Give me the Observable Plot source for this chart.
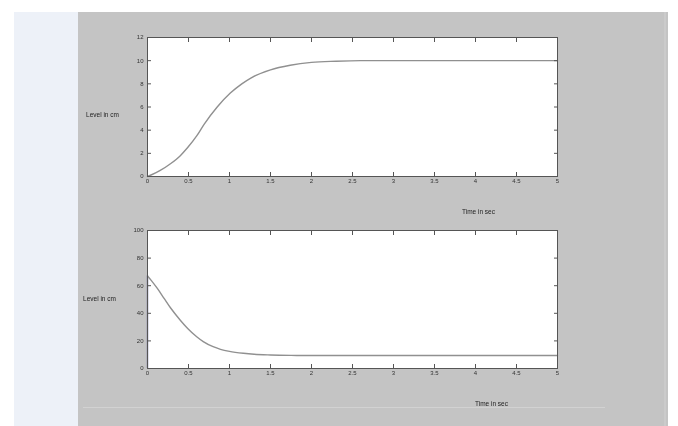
<!DOCTYPE html>
<html>
<head>
<meta charset="utf-8">
<script src="https://cdn.jsdelivr.net/npm/d3@7"></script>
<script src="https://cdn.jsdelivr.net/npm/@observablehq/plot@0.6"></script>
<style>
  html, body { margin: 0; padding: 0; background: #ffffff; }
  #page { position: relative; width: 678px; height: 426px; overflow: hidden; font-family: "Liberation Sans", Arial, sans-serif; }
  #strip { position: absolute; left: 14px; top: 12px; width: 64px; height: 414px; background: #edf1f8; }
  #panel { position: absolute; left: 78px; top: 12px; width: 590px; height: 414px; background: #c4c4c4; }
  #edge { position: absolute; left: 664px; top: 12px; width: 2px; height: 414px; background: #cbcbcb; }
  #baseline { position: absolute; left: 83px; top: 407px; width: 522px; height: 1px; background: #d2d2d2; }
  .chart { position: absolute; left: 78px; filter: blur(0.35px); }
  #top { top: 12px; }
  #bottom { top: 222px; }
</style>
</head>
<body>
<div id="page">
  <div id="strip"></div>
  <div id="panel"></div>
  <div id="edge"></div>
  <div id="baseline"></div>
  <div id="top" class="chart"></div>
  <div id="bottom" class="chart"></div>
</div>
<script>
// ---- data ----
const xTicks = [0, 0.5, 1, 1.5, 2, 2.5, 3, 3.5, 4, 4.5, 5];
const yTicksTop = [0, 2, 4, 6, 8, 10, 12];
const yTicksBottom = [0, 20, 40, 60, 80, 100];

const timeTop  = [0, 0.05, 0.15, 0.28, 0.4, 0.49, 0.6, 0.69, 0.85, 1.01, 1.15, 1.26, 1.5, 1.74, 2.0, 2.3, 2.6, 3, 3.5, 4, 4.5, 5];
const levelTop = [0, 0.15, 0.5, 1.1, 1.8, 2.5, 3.5, 4.5, 6.0, 7.2, 8.0, 8.5, 9.2, 9.6, 9.85, 9.95, 10, 10, 10, 10, 10, 10];

const timeBottom  = [0, 0.05, 0.12, 0.2, 0.28, 0.4, 0.49, 0.6, 0.68, 0.8, 0.89, 1.0, 1.17, 1.3, 1.5, 1.75, 2, 2.5, 3, 3.5, 4, 4.5, 5];
const levelBottom = [67, 63.5, 58, 51, 44, 35, 29, 23, 19.5, 15.8, 13.9, 12.4, 11, 10.3, 9.8, 9.5, 9.4, 9.4, 9.4, 9.4, 9.4, 9.4, 9.4];
const startStep = [{t: 0, from: 0, to: 67}];

const yLabel = "Level in cm";
const xLabel = "Time in sec";

const topData = timeTop.map((t, i) => ({t, v: levelTop[i]}));
const bottomData = timeBottom.map((t, i) => ({t, v: levelBottom[i]}));

const axisColor = "#555";
const curveColor = "#909090";
const fmt = d3.format("~g");

function panel(data, yDomain, yTicks, opts) {
  const marks = [
    Plot.frame({fill: "white", stroke: null}),
    ...(opts.extra || []),
    Plot.line(data, {x: "t", y: "v", stroke: curveColor, strokeWidth: 1.4, curve: "monotone-x"}),
    Plot.frame({stroke: axisColor, strokeWidth: 1}),
    Plot.axisX(xTicks, {anchor: "bottom", tickSize: -4, tickPadding: 6, tickFormat: fmt, stroke: axisColor, fill: "#333", fontSize: 6, label: null}),
    Plot.axisX(xTicks, {anchor: "top", tickSize: -4, tickFormat: () => "", stroke: axisColor, label: null}),
    Plot.axisY(yTicks, {anchor: "left", tickSize: -4, tickPadding: 8, tickFormat: fmt, stroke: axisColor, fill: "#333", fontSize: 6, label: null}),
    Plot.axisY(yTicks, {anchor: "right", tickSize: -4, tickFormat: () => "", stroke: axisColor, label: null}),
    Plot.text([yLabel], {frameAnchor: "left", dx: opts.ylx, dy: opts.yly, text: d => d, fill: "#222", fontSize: 6.5, textAnchor: "middle"}),
    Plot.text([xLabel], {frameAnchor: "bottom-right", dx: opts.xlx, dy: opts.xly, text: d => d, fill: "#222", fontSize: 6.5, textAnchor: "middle"})
  ];
  return Plot.plot({
    width: 590,
    height: opts.height,
    marginLeft: 69,
    marginRight: 111,
    marginTop: opts.mt,
    marginBottom: opts.mb,
    style: {background: "transparent", fontFamily: "Liberation Sans, Arial, sans-serif"},
    x: {domain: [0, 5], axis: null},
    y: {domain: yDomain, axis: null},
    marks
  });
}

document.getElementById("top").append(panel(topData, [0, 12], yTicksTop, {
  height: 210, mt: 25, mb: 46, ylx: -45, yly: 8, xlx: -79, xly: 37
}));

document.getElementById("bottom").append(panel(bottomData, [0, 100], yTicksBottom, {
  height: 204, mt: 8, mb: 58, ylx: -48, yly: -1, xlx: -66, xly: 37,
  extra: [Plot.ruleX(startStep, {x: "t", y1: "from", y2: "to", stroke: "#7c7cae", strokeWidth: 1.5})]
}));
</script>
</body>
</html>
